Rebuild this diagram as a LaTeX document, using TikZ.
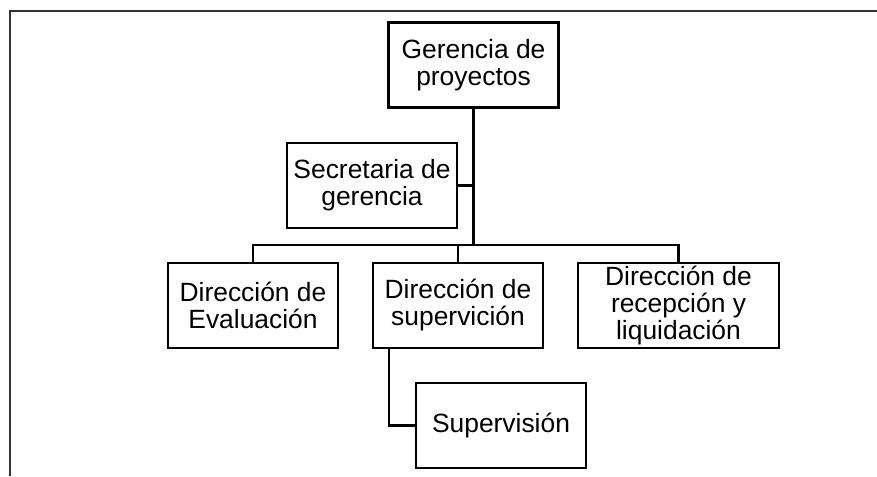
\documentclass[tikz,border=0pt]{standalone}
\usepackage{fontspec}
\setmainfont{Liberation Sans}
\begin{document}
\begin{tikzpicture}[x=1pt,y=-1pt,
  orgbox/.style={draw=black,line width=2.4pt,inner sep=0pt,align=center,
    minimum width=170pt,minimum height=85pt,
    font=\fontsize{26.4}{27}\selectfont},
  conn/.style={line width=2.3pt},
  trunk/.style={line width=3.2pt}]
\useasboundingbox (0,0) rectangle (877,476);
\draw[line width=1.8pt,black!80] (10,476) -- (10,11) -- (877,11);
\node[orgbox] (ger) at (473.5,65) {Gerencia de\\proyectos};
\node[orgbox] (sec) at (372,185.5) {Secretaria de\\gerencia};
\node[orgbox] (eva) at (253,305.5) {Dirección de\\Evaluación};
\node[orgbox] (dsu) at (458,305.5) {Dirección de\\supervición};
\node[orgbox,minimum width=201pt] (rec) at (678.5,305.5) {Dirección de\\recepción y\\liquidación};
\node[orgbox] (sup) at (501,425.5) {Supervisión};
\coordinate (bus) at (473.5,245);
\draw[trunk] (ger.south) -- (bus);
\draw[conn] (sec.east) -- (sec.east -| ger.south);
\draw[conn] (eva.north) |- (bus) -| (rec.north);
\draw[conn] (dsu.north) -- (dsu.north |- bus);
\draw[conn] ([xshift=17pt]dsu.south west) |- (sup.west);
\end{tikzpicture}
\end{document}
